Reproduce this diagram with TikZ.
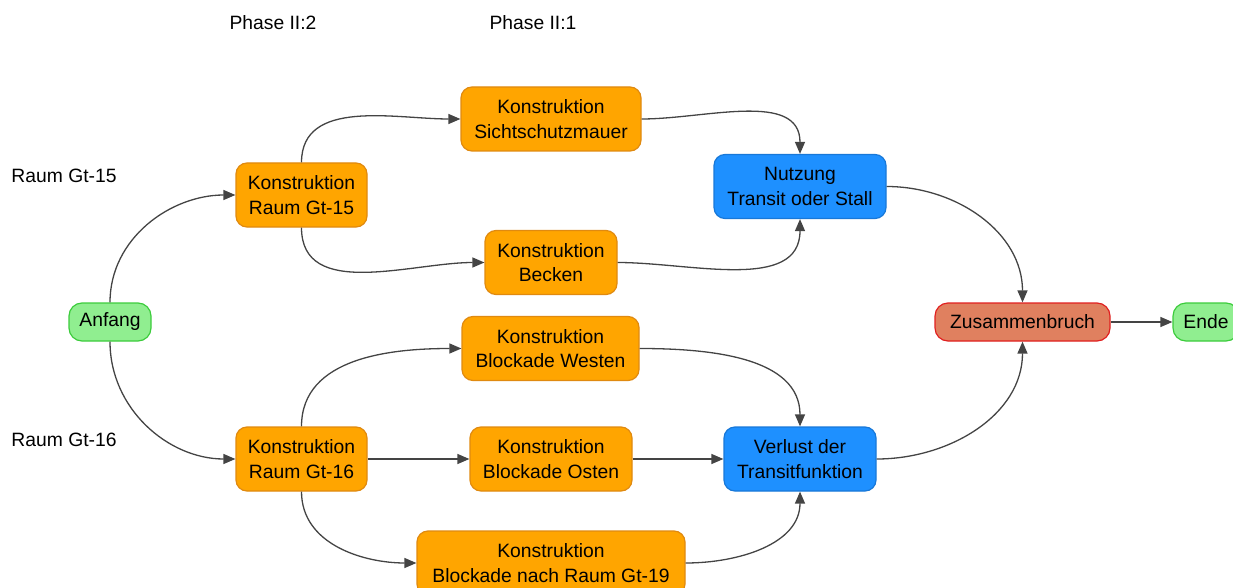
\documentclass[tikz,border=0pt]{standalone}
\usepackage{fontspec}
\setmainfont{Liberation Sans}
\usetikzlibrary{arrows.meta}
\definecolor{boxorange}{HTML}{FFA500}
\definecolor{edgeorange}{HTML}{E08A10}
\definecolor{boxblue}{HTML}{1E90FF}
\definecolor{edgeblue}{HTML}{1878D8}
\definecolor{boxgreen}{HTML}{90EE90}
\definecolor{edgegreen}{HTML}{3CCC3C}
\definecolor{boxsalmon}{HTML}{E0805F}
\definecolor{edgered}{HTML}{E02020}
\definecolor{linegray}{HTML}{444444}
\tikzset{
  base/.style={draw, line width=1.2pt, rounded corners=11pt, align=center,
    font=\fontsize{19.3}{24.5}\selectfont, inner xsep=9pt, inner ysep=0pt},
  task/.style={base, fill=boxorange, draw=edgeorange, minimum height=64pt},
  state/.style={base, fill=boxblue, draw=edgeblue, minimum height=64pt},
  terminal/.style={base, fill=boxgreen, draw=edgegreen, minimum height=38pt, rounded corners=13pt},
  crash/.style={base, fill=boxsalmon, draw=edgered, minimum height=38pt, rounded corners=13pt},
  lbl/.style={font=\fontsize{19.3}{24.5}\selectfont, inner sep=0pt},
  flow/.style={draw=linegray, line width=1.3pt, -{Triangle[length=12pt,width=10pt]}}
}
\begin{document}
\begin{tikzpicture}[x=1pt, y=-1pt]
\useasboundingbox (0,0) rectangle (1233,588);
% column and row labels
\node[lbl] (ph2) at (273,23) {Phase II:2};
\node[lbl] (ph1) at (533,23) {Phase II:1};
\node[lbl] (r15) at (64,176) {Raum Gt-15};
\node[lbl] (r16) at (64,440) {Raum Gt-16};
% nodes
\node[terminal, minimum width=82pt] (anfang) at (110,322) {Anfang};
\node[task, minimum width=131pt] (gt15) at (301.5,195) {Konstruktion\\Raum Gt-15};
\node[task, minimum width=180pt] (mauer) at (551,119) {Konstruktion\\Sichtschutzmauer};
\node[task, minimum width=132pt] (becken) at (551,262.5) {Konstruktion\\Becken};
\node[state, minimum width=172pt] (nutzung) at (800,186.5) {Nutzung\\Transit oder Stall};
\node[crash, minimum width=175pt] (zus) at (1022.5,322) {Zusammenbruch};
\node[terminal, minimum width=66pt] (ende) at (1206,322) {Ende};
\node[task, minimum width=177pt] (westen) at (550.5,348.5) {Konstruktion\\Blockade Westen};
\node[task, minimum width=131pt] (gt16) at (301.5,459) {Konstruktion\\Raum Gt-16};
\node[task, minimum width=162pt] (osten) at (551,459) {Konstruktion\\Blockade Osten};
\node[state, minimum width=152pt] (verlust) at (800,459) {Verlust der\\Transitfunktion};
\node[task, minimum width=268pt] (gt19) at (551,563) {Konstruktion\\Blockade nach Raum Gt-19};
% connectors
\draw[flow] (anfang.north) to[out=90, in=180] (gt15.west);
\draw[flow] (anfang.south) to[out=-90, in=180] (gt16.west);
\draw[flow] (gt15.north) to[out=90, in=180] (mauer.west);
\draw[flow] (gt15.south) to[out=-90, in=180] (becken.west);
\draw[flow] (mauer.east) to[out=0, in=90] (nutzung.north);
\draw[flow] (becken.east) to[out=0, in=-90] (nutzung.south);
\draw[flow] (nutzung.east) to[out=0, in=90] (zus.north);
\draw[flow] (zus.east) -- (ende.west);
\draw[flow] (gt16.north) to[out=90, in=180] (westen.west);
\draw[flow] (gt16.east) -- (osten.west);
\draw[flow] (gt16.south) to[out=-90, in=180] (gt19.west);
\draw[flow] (westen.east) to[out=0, in=90] (verlust.north);
\draw[flow] (osten.east) -- (verlust.west);
\draw[flow] (gt19.east) to[out=0, in=-90] (verlust.south);
\draw[flow] (verlust.east) to[out=0, in=-90] (zus.south);
\end{tikzpicture}
\end{document}
